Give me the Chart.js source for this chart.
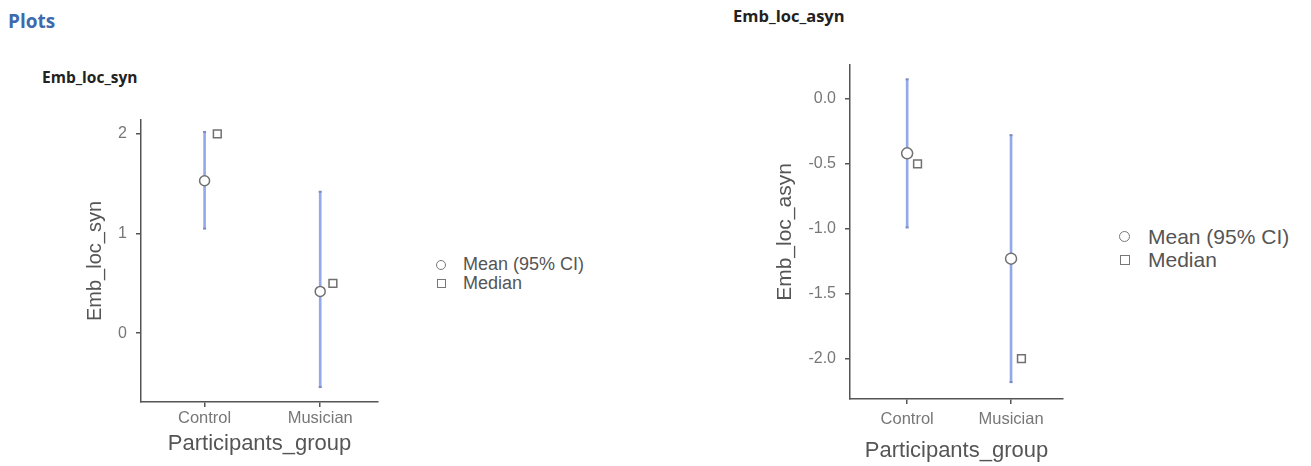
<!DOCTYPE html>
<html>
<head>
<meta charset="utf-8">
<title>Plots</title>
<script src="https://cdn.jsdelivr.net/npm/chart.js@4.4.0/dist/chart.umd.min.js"></script>
<style>
    body { margin: 0; width: 1311px; height: 466px; background: #fff; position: relative; overflow: hidden; font-family: "Liberation Sans", Arial, sans-serif; }
    .heading { position: absolute; font-family: "Open Sans", "DejaVu Sans", sans-serif; font-weight: 700; white-space: nowrap; }
    .box { position: absolute; }
    .legend { position: absolute; color: #555; white-space: nowrap; }
    .legend div { display: flex; align-items: center; }
    .mk { display: inline-block; box-sizing: border-box; border: 1.5px solid #777; background: #fff; }
    .mk.circ { border-radius: 50%; }
</style>
</head>
<body>
<div class="heading" style="left:8px; top:8px; font-size:19px; color:#3d6aad;">Plots</div>
<div class="heading" style="left:42px; top:66px; font-size:15.5px; color:#222;">Emb_loc_syn</div>
<div class="heading" style="left:733px; top:4px; font-size:16.5px; color:#222;">Emb_loc_asyn</div>

<div class="box" style="left:60px; top:100px; width:340px; height:366px;">
    <canvas id="synChart" width="340" height="366"></canvas>
</div>
<div class="box" style="left:740px; top:45px; width:340px; height:421px;">
    <canvas id="asynChart" width="340" height="421"></canvas>
</div>

<div class="legend" style="left:436px; top:255px; font-size:18px; line-height:19px;">
    <div><span class="mk circ" style="width:10px;height:10px;margin-right:17px;"></span>Mean (95% CI)</div>
    <div><span class="mk" style="width:9px;height:9px;margin:0 17px 0 1px;"></span>Median</div>
</div>
<div class="legend" style="left:1119px; top:225px; font-size:21px; line-height:23px;">
    <div><span class="mk circ" style="width:11px;height:11px;margin-right:18px;"></span>Mean (95% CI)</div>
    <div><span class="mk" style="width:10px;height:10px;margin:0 18px 0 1px;"></span>Median</div>
</div>

<script>
// groups on the x axis
const groups = ['Control', 'Musician'];

// Emb_loc_syn
const synMean = [1.53, 0.42];
const synLower = [1.05, -0.54];
const synUpper = [2.02, 1.42];
const synMedian = [2.0, 0.5];
const synTicks = [0, 1, 2];

// Emb_loc_asyn
const asynMean = [-0.42, -1.23];
const asynLower = [-0.99, -2.18];
const asynUpper = [0.15, -0.28];
const asynMedian = [-0.5, -2.0];
const asynTicks = [0, -0.5, -1, -1.5, -2];

const CI_COLOR = '#93a9e8';
const AXIS_COLOR = '#555';
const MARK_BORDER = '#707070';

function buildChart(id, o) {
    const xs = groups.map((g, i) => i + 1);
    const ctx = document.getElementById(id).getContext('2d');

    return new Chart(ctx, {
        type: 'scatter',
        data: {
            datasets: [
                {
                    label: 'Mean (95% CI)',
                    data: xs.map((x, i) => ({ x: x, y: o.mean[i] })),
                    pointStyle: 'circle',
                    radius: o.circle,
                    backgroundColor: '#fff',
                    borderColor: MARK_BORDER,
                    borderWidth: 1.5,
                    order: 0
                },
                {
                    label: 'Median',
                    data: xs.map((x, i) => ({ x: x + o.shift, y: o.median[i] })),
                    pointStyle: 'rect',
                    radius: o.square,
                    backgroundColor: '#fff',
                    borderColor: MARK_BORDER,
                    borderWidth: 1.5,
                    order: 1
                },
                {
                    label: 'caps',
                    data: xs.flatMap((x, i) => [{ x: x, y: o.lower[i] }, { x: x, y: o.upper[i] }]),
                    pointStyle: 'line',
                    radius: 1.5,
                    borderColor: '#7b8cc0',
                    borderWidth: 2,
                    order: 2
                },
                {
                    type: 'bar',
                    label: 'CI',
                    data: xs.map((x, i) => ({ x: x, y: [o.lower[i], o.upper[i]] })),
                    backgroundColor: CI_COLOR,
                    borderWidth: 0,
                    barThickness: 2,
                    order: 3
                }
            ]
        },
        options: {
            responsive: false,
            animation: false,
            layout: { padding: { top: 20, right: o.padRight, left: 0, bottom: 0 } },
            plugins: {
                legend: { display: false },
                tooltip: { enabled: false }
            },
            scales: {
                x: {
                    type: 'linear',
                    min: 0.45,
                    max: 2.5,
                    offset: false,
                    afterBuildTicks: axis => { axis.ticks = xs.map(v => ({ value: v })); },
                    afterFit: axis => { axis.height = o.xHeight; },
                    grid: { display: true, offset: false, drawOnChartArea: false, drawTicks: true, tickLength: 5, tickColor: AXIS_COLOR, lineWidth: 1.5 },
                    border: { display: true, color: AXIS_COLOR, width: 1.5 },
                    ticks: {
                        color: '#777',
                        padding: o.xTickPad,
                        font: { family: 'Liberation Sans', size: 16.5 },
                        callback: v => groups[v - 1]
                    },
                    title: {
                        display: true,
                        text: 'Participants_group',
                        color: '#555',
                        font: { family: 'Liberation Sans', size: o.xTitleSize },
                        padding: { top: 0, bottom: o.xTitlePad }
                    }
                },
                y: {
                    type: 'linear',
                    min: o.yMin,
                    max: o.yMax,
                    afterBuildTicks: axis => { axis.ticks = o.ticks.map(v => ({ value: v })); },
                    afterFit: axis => { axis.width = o.yWidth; },
                    grid: { display: true, drawOnChartArea: false, drawTicks: true, tickLength: 5, tickColor: AXIS_COLOR, lineWidth: 1.5 },
                    border: { display: true, color: AXIS_COLOR, width: 1.5 },
                    ticks: {
                        color: '#777',
                        padding: o.yTickPad,
                        font: { family: 'Liberation Sans', size: 16 },
                        callback: o.fmt
                    },
                    title: {
                        display: true,
                        text: o.yTitle,
                        color: '#555',
                        font: { family: 'Liberation Sans', size: o.yTitleSize },
                        padding: { top: o.yTitlePad, bottom: 0 }
                    }
                }
            }
        }
    });
}

buildChart('synChart', {
    mean: synMean, lower: synLower, upper: synUpper, median: synMedian, ticks: synTicks,
    yMin: -0.69, yMax: 2.14, yTitle: 'Emb_loc_syn', fmt: v => String(v),
    shift: 0.11, circle: 5, square: 5.5,
    padRight: 22, yWidth: 81, xHeight: 64,
    xTitleSize: 22, yTitleSize: 20, yTitlePad: 23, xTitlePad: 9, xTickPad: 2, yTickPad: 9
});

buildChart('asynChart', {
    mean: asynMean, lower: asynLower, upper: asynUpper, median: asynMedian, ticks: asynTicks,
    yMin: -2.31, yMax: 0.26, yTitle: 'Emb_loc_asyn', fmt: v => v.toFixed(1),
    shift: 0.1, circle: 5.5, square: 5.5,
    padRight: 17, yWidth: 110, xHeight: 67,
    xTitleSize: 22, yTitleSize: 21, yTitlePad: 33, xTitlePad: 2, xTickPad: 6, yTickPad: 9
});
</script>
</body>
</html>
